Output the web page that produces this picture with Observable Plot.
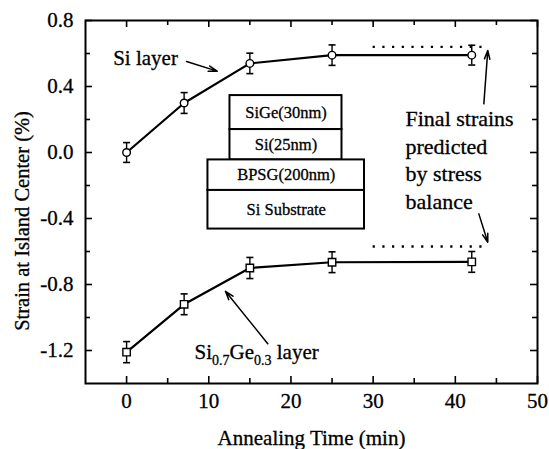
<!DOCTYPE html>
<html>
<head>
<meta charset="utf-8">
<script src="https://cdn.jsdelivr.net/npm/d3@7"></script>
<script src="https://cdn.jsdelivr.net/npm/@observablehq/plot@0.6"></script>
<style>
  html, body { margin: 0; padding: 0; background: #fff; }
  svg { display: block; }
  svg text { font-family: "Liberation Serif", "Times New Roman", serif; stroke: #000; stroke-width: 0.3px; }
</style>
</head>
<body>
<div id="chart"></div>
<script>
// ---- data ----
const time = [0, 7, 15, 25, 42];
const siStrain = [0.0, 0.30, 0.54, 0.59, 0.59];
const siErr = [0.06, 0.063, 0.062, 0.062, 0.06];
const sigeStrain = [-1.21, -0.92, -0.70, -0.665, -0.663];
const sigeErr = [0.064, 0.063, 0.064, 0.063, 0.063];

// predicted final strains (dotted lines)
const predTime = [30, 44];
const predSi = 0.64;
const predSiGe = -0.57;

// axis ticks
const xMajor = [0, 10, 20, 30, 40, 50];
const xMinor = [5, 15, 25, 35, 45];
const yMajor = [0.8, 0.4, 0.0, -0.4, -0.8, -1.2];
const yMinor = [0.6, 0.2, -0.2, -0.6, -1.0];

// text
const xTitle = "Annealing Time (min)";
const yTitle = "Strain at Island Center (%)";
const siLabel = "Si layer";
const sigeLabel = "Si0.7Ge0.3 layer";
const finalLabel = "Final strains\npredicted\nby stress\nbalance";

// inset layer stack (data coordinates)
const layerNames = ["SiGe(30nm)", "Si(25nm)", "BPSG(200nm)", "Si Substrate"];
const layerX1 = [12.58, 12.58, 9.9, 9.9];
const layerX2 = [26.21, 26.21, 28.95, 28.95];
const layerY1 = [0.345, 0.139, -0.045, -0.230];
const layerY2 = [0.139, -0.045, -0.230, -0.464];

// annotation arrows (data coordinates)
const arrowX1 = [7.29, 43.47, 42.86, 17.18];
const arrowY1 = [0.551, 0.295, -0.372, -1.159];
const arrowX2 = [11.02, 43.95, 43.95, 12.03];
const arrowY2 = [0.493, 0.618, -0.544, -0.841];

// ---- build tables ----
const si = time.map((t, i) => ({t, v: siStrain[i], e: siErr[i]}));
const sige = time.map((t, i) => ({t, v: sigeStrain[i], e: sigeErr[i]}));
const both = si.concat(sige);
const preds = [predSi, predSiGe].map(v => ({x1: predTime[0], x2: predTime[1], y: v}));
const layers = layerNames.map((name, i) => ({name, x1: layerX1[i], x2: layerX2[i], y1: layerY1[i], y2: layerY2[i]}));
const arrows = arrowX1.map((x1, i) => ({x1, y1: arrowY1[i], x2: arrowX2[i], y2: arrowY2[i]}));

const W = 549, H = 449;
const mL = 85, mR = 12, mT = 20, mB = 66;
const fw = W - mL - mR, fh = H - mT - mB;

const cap = {
  draw(ctx) { ctx.moveTo(-3.5, 0); ctx.lineTo(3.5, 0); }
};

const font = "Liberation Serif";

const plot = Plot.plot({
  width: W,
  height: H,
  marginLeft: mL,
  marginRight: mR,
  marginTop: mT,
  marginBottom: mB,
  style: {fontFamily: "'Liberation Serif', serif", fontSize: "20px", color: "#000", background: "#fff"},
  x: {domain: [-5, 50], axis: null},
  y: {domain: [-1.4, 0.8], axis: null},
  marks: [
    // inward ticks: left / right
    Plot.tickY(yMajor, {y: d => d, insetRight: fw - 7, strokeWidth: 1.6}),
    Plot.tickY(yMinor, {y: d => d, insetRight: fw - 5, strokeWidth: 1.6}),
    Plot.tickY(yMajor, {y: d => d, insetLeft: fw - 7, strokeWidth: 1.6}),
    Plot.tickY(yMinor, {y: d => d, insetLeft: fw - 5, strokeWidth: 1.6}),
    // inward ticks: bottom / top
    Plot.tickX(xMajor, {x: d => d, insetTop: fh - 7, strokeWidth: 1.6}),
    Plot.tickX(xMinor, {x: d => d, insetTop: fh - 5, strokeWidth: 1.6}),
    Plot.tickX(xMajor, {x: d => d, insetBottom: fh - 7, strokeWidth: 1.6}),
    Plot.tickX(xMinor, {x: d => d, insetBottom: fh - 5, strokeWidth: 1.6}),
    Plot.frame({stroke: "#000", strokeWidth: 2}),
    // tick labels
    Plot.text(xMajor, {x: d => d, text: d => String(d), frameAnchor: "bottom", textAnchor: "middle", lineAnchor: "top", dy: 10, fontSize: 21, fontFamily: font}),
    Plot.text(yMajor, {y: d => d, text: d => d.toFixed(1), frameAnchor: "left", textAnchor: "end", lineAnchor: "middle", dx: -12, fontSize: 21, fontFamily: font}),
    // axis titles
    Plot.text([xTitle], {frameAnchor: "bottom", textAnchor: "middle", lineAnchor: "middle", dy: 55, fontSize: 21, fontFamily: font}),
    Plot.text([yTitle], {frameAnchor: "left", textAnchor: "middle", lineAnchor: "middle", rotate: -90, dx: -63, dy: 19, fontSize: 20.5, fontFamily: font}),

    // inset layer stack
    Plot.rect(layers, {x1: "x1", x2: "x2", y1: "y1", y2: "y2", fill: "#fff", stroke: "#000", strokeWidth: 2}),
    Plot.text(layers, {x: d => (d.x1 + d.x2) / 2, y: d => (d.y1 + d.y2) / 2, text: "name", fontSize: 16.5, fontFamily: font}),

    // predicted final strains
    Plot.ruleY(preds, {y: "y", x1: "x1", x2: "x2", stroke: "#000", strokeWidth: 2.4, strokeDasharray: "2.2,7.5"}),

    // data lines
    Plot.line(si, {x: "t", y: "v", stroke: "#000", strokeWidth: 2.2}),
    Plot.line(sige, {x: "t", y: "v", stroke: "#000", strokeWidth: 2.2}),
    // error bars
    Plot.ruleX(both, {x: "t", y1: d => d.v - d.e, y2: d => d.v + d.e, stroke: "#000", strokeWidth: 1.4}),
    Plot.dot(both, {x: "t", y: d => d.v - d.e, symbol: cap, stroke: "#000", strokeWidth: 1.6}),
    Plot.dot(both, {x: "t", y: d => d.v + d.e, symbol: cap, stroke: "#000", strokeWidth: 1.6}),
    // markers
    Plot.dot(si, {x: "t", y: "v", symbol: "circle", r: 3.8, fill: "#fff", stroke: "#000", strokeWidth: 1.4}),
    Plot.dot(sige, {x: "t", y: "v", symbol: "square", r: 4.2, fill: "#fff", stroke: "#000", strokeWidth: 1.4}),

    // annotations
    Plot.arrow(arrows, {x1: "x1", y1: "y1", x2: "x2", y2: "y2", stroke: "#000", strokeWidth: 1.5, headLength: 9, headAngle: 35}),
    Plot.text([siLabel], {x: -1.63, y: 0.574, textAnchor: "start", fontSize: 21, fontFamily: font}),
    Plot.text([finalLabel], {x: 33.94, y: -0.039, textAnchor: "start", lineAnchor: "middle", lineHeight: 1.25, fontSize: 22, fontFamily: font}),
    Plot.text([sigeLabel], {x: 8.26, y: -1.21, textAnchor: "start", fontSize: 21, fontFamily: font})
  ]
});

// render subscripts in the Si0.7Ge0.3 label
d3.select(plot).selectAll("text").filter(function () { return this.textContent === sigeLabel; })
  .each(function () {
    const t = d3.select(this);
    t.text(null);
    const parts = [["Si", 0], ["0.7", 1], ["Ge", 0], ["0.3", 1], [" layer", 0]];
    let prev = 0;
    for (const [s, sub] of parts) {
      const ts = t.append("tspan").text(s);
      const shift = sub ? 6 : 0;
      if (shift !== prev) ts.attr("dy", shift - prev);
      if (sub) ts.attr("font-size", 14);
      prev = shift;
    }
  });

document.getElementById("chart").appendChild(plot);
</script>
</body>
</html>
